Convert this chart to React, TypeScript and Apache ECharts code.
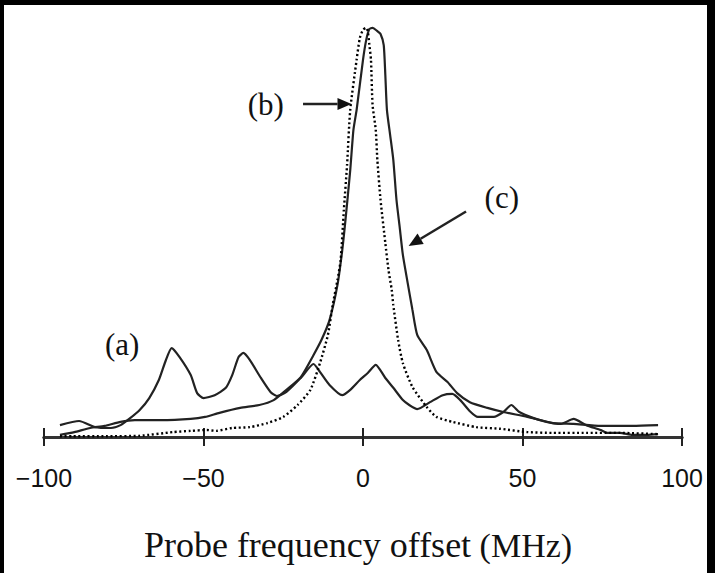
import React, { useEffect, useRef } from "react";
import * as echarts from "echarts";

// x tick labels (MHz)
const xTickValues = [-100, -50, 0, 50, 100];

// Curve (a): multi-peak spectrum (probe frequency offset in MHz, relative intensity)
const freqA = [-95, -89, -84, -79, -76, -73, -70, -67, -64, -62, -60, -57.5, -54, -52, -50, -46.5, -43, -41, -39, -37.5, -35.5, -32, -29, -27, -24, -19.5, -15.5, -13.5, -10.5, -6.5, -4, -1, 1.5, 4, 7, 9.5, 12.5, 14.5, 17, 21, 25, 28, 30.5, 33.5, 36, 41, 44, 46.5, 49, 53.5, 57.5, 62, 66, 70, 74.5, 76.5, 80.5, 84.5, 89, 92.5];
const intA = [2.9, 3.9, 2.4, 2.2, 2.9, 4.6, 6.6, 9.5, 13.9, 18.3, 21.7, 19.5, 15.1, 10.7, 9.5, 10.2, 12.0, 15.1, 19.5, 20.5, 18.8, 14.4, 11.0, 10.0, 11.0, 14.4, 17.8, 15.9, 12.7, 10.2, 11.5, 13.9, 15.6, 17.6, 14.4, 12.0, 9.0, 7.8, 6.8, 8.5, 10.2, 10.5, 9.0, 6.3, 4.9, 4.9, 6.1, 7.8, 6.1, 4.6, 3.7, 3.2, 4.4, 2.9, 1.7, 1.0, 1.0, 0.5, 0.5, 0.7];

// Curve (b): narrow peak (dotted)
const freqB = [-95, -91, -80.5, -70, -59.5, -54, -49, -46, -41, -35.5, -30, -25, -20.5, -16.5, -13.5, -11, -9.5, -8, -7, -6, -5, -4, -2, -1, 0, 1, 1.5, 2, 2.5, 3, 4, 4.5, 5.5, 7, 8, 9, 9.5, 11, 12.5, 15.5, 20, 23, 28, 35.5, 43, 51.5, 59.5, 70, 80.5, 92.5];
const intB = [0.2, 0.2, 0.2, 0.3, 1.2, 1.5, 1.7, 1.5, 2.2, 2.4, 3.4, 4.9, 7.8, 11.5, 18.0, 24.9, 32.2, 38.3, 43.2, 55.4, 66.3, 79.8, 92.0, 97.3, 99.3, 99.8, 99.0, 95.6, 92.0, 81.0, 74.9, 67.6, 57.8, 47.3, 40.7, 35.9, 32.2, 23.7, 18.0, 12.2, 7.3, 4.9, 3.7, 2.4, 2.0, 1.2, 1.0, 1.0, 1.0, 0.7];

// Curve (c): broad peak (solid)
const freqC = [-95, -90.5, -85.5, -81, -76, -71.5, -63.5, -54, -49.5, -45, -38.5, -32.5, -28, -24, -19.5, -15.5, -13, -10.5, -8, -6.5, -5.5, -4, -3, -2, 0, 1, 2, 3, 4.5, 5.5, 6.5, 7, 7.5, 8.5, 9.5, 10.5, 11.5, 12.5, 14, 15.5, 17, 20, 23, 26.5, 29.5, 33.5, 39, 44, 51.5, 59.5, 66, 74.5, 84.5, 92.5];
const intC = [0.5, 1.2, 2.2, 2.7, 3.7, 4.1, 4.1, 4.4, 4.9, 5.9, 7.1, 7.8, 9.0, 11.5, 14.6, 20.0, 23.7, 28.5, 37.1, 45.6, 52.9, 65.1, 74.9, 79.8, 92.0, 96.8, 99.5, 99.8, 99.0, 98.3, 95.6, 88.3, 79.8, 73.7, 67.6, 57.8, 51.2, 44.4, 37.6, 31.0, 24.9, 21.2, 15.9, 13.4, 10.7, 8.5, 7.1, 6.1, 4.9, 3.4, 3.2, 2.7, 2.7, 2.9];

// Annotations in data coordinates [MHz, intensity]
const labelA = { text: "(a)", at: [-75.5, 22.5] };
const labelB = { text: "(b)", at: [-30.5, 81] };
const labelC = { text: "(c)", at: [43.5, 58.5] };
const arrowB = { from: [-18.8, 81.2], to: [-3.6, 81.2] };
const arrowC = { from: [32.3, 55], to: [14.3, 46.6] };

const zip = (xs: number[], ys: number[]) => xs.map((x, i) => [x, ys[i]]);

export default function App() {
  const ref = useRef<HTMLDivElement>(null);
  useEffect(() => {
    const chart = echarts.init(ref.current!, null, { renderer: "svg" });
    const lineColor = "#222";
    const axisCommon = {
      type: "value",
      min: -100,
      max: 100,
      interval: 50,
      position: "bottom",
      splitLine: { show: false },
      axisLine: { show: true, onZero: false, lineStyle: { color: "#333", width: 3 } },
    };
    chart.setOption({
      animation: false,
      backgroundColor: "#fff",
      grid: { left: 40, right: 25, top: 22, bottom: 136 },
      xAxis: [
        {
          ...axisCommon,
          axisTick: { show: true, inside: false, length: 9, lineStyle: { color: "#222", width: 2 } },
          axisLabel: {
            show: true,
            margin: 28,
            fontSize: 25,
            color: "#111",
            fontFamily: "'Liberation Sans Narrow', 'Liberation Sans', Arial, sans-serif",
            formatter: (v: number) => (xTickValues.includes(v) ? String(v).replace("-", "\u2212") : ""),
          },
        },
        {
          ...axisCommon,
          axisTick: { show: true, inside: true, length: 9, lineStyle: { color: "#222", width: 2 } },
          axisLabel: { show: false },
        },
      ],
      yAxis: { type: "value", min: 0, max: 100, show: false },
      series: [
        {
          name: "(a)",
          type: "line",
          data: zip(freqA, intA),
          showSymbol: false,
          smooth: 0.2,
          lineStyle: { color: lineColor, width: 2.2 },
        },
        {
          name: "(c)",
          type: "line",
          data: zip(freqC, intC),
          showSymbol: false,
          smooth: 0.2,
          lineStyle: { color: lineColor, width: 2.2 },
        },
        {
          name: "(b)",
          type: "line",
          data: zip(freqB, intB),
          showSymbol: false,
          smooth: 0.2,
          lineStyle: { color: "#000", width: 2.4, type: [2, 2.6] },
        },
      ],
    });

    const px = (p: number[]) => chart.convertToPixel({ xAxisIndex: 0, yAxisIndex: 0 }, p) as number[];
    const arrow = (a: { from: number[]; to: number[] }) => {
      const s = px(a.from);
      const t = px(a.to);
      const dx = t[0] - s[0];
      const dy = t[1] - s[1];
      const len = Math.hypot(dx, dy);
      const ux = dx / len;
      const uy = dy / len;
      const hl = 14;
      const hw = 6;
      const bx = t[0] - ux * hl;
      const by = t[1] - uy * hl;
      return [
        { type: "line", shape: { x1: s[0], y1: s[1], x2: bx, y2: by }, style: { stroke: "#222", lineWidth: 2.5 } },
        {
          type: "polygon",
          shape: { points: [[t[0], t[1]], [bx - uy * hw, by + ux * hw], [bx + uy * hw, by - ux * hw]] },
          style: { fill: "#111" },
        },
      ];
    };
    const label = (l: { text: string; at: number[] }) => {
      const p = px(l.at);
      return {
        type: "text",
        x: p[0],
        y: p[1],
        style: {
          text: l.text,
          fontSize: 31,
          fontFamily: "'Liberation Serif', 'Times New Roman', serif",
          fill: "#111",
          align: "center",
          verticalAlign: "middle",
        },
      };
    };
    chart.setOption({
      graphic: [
        label(labelA),
        label(labelB),
        label(labelC),
        ...arrow(arrowB),
        ...arrow(arrowC),
        {
          type: "text",
          x: 354,
          y: 540,
          style: {
            text: "{a|Probe frequency offset}{b| (MHz)}",
            align: "center",
            verticalAlign: "middle",
            fill: "#111",
            rich: {
              a: { fontSize: 36, fontFamily: "'Liberation Serif', 'Times New Roman', serif", fill: "#111" },
              b: { fontSize: 34, fontFamily: "'Liberation Serif', 'Times New Roman', serif", fill: "#111" },
            },
          },
        },
      ],
    });
    return () => chart.dispose();
  }, []);
  return (
    <div style={{ position: "absolute", left: 0, top: 0, width: 715, height: 573, background: "#000" }}>
      <div ref={ref} style={{ position: "absolute", left: 4, top: 5, width: 703, height: 568, background: "#fff" }} />
    </div>
  );
}
